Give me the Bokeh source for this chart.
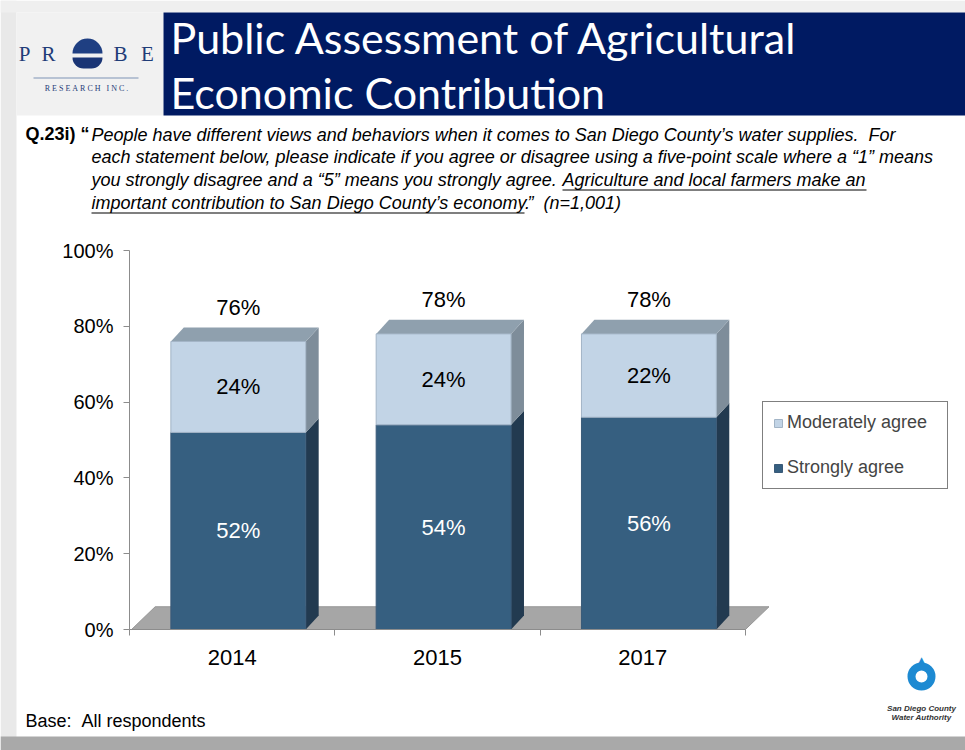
from bokeh.plotting import figure
from bokeh.models import (FixedTicker, Label, BoxAnnotation, Legend, LegendItem,
                          ColumnDataSource)
from bokeh.embed import file_html
from bokeh.resources import INLINE

NB = "\u00a0"

# ---------------- data ----------------
years = ["2014", "2015", "2017"]
strongly = [52, 54, 56]
moderately = [24, 24, 22]
y_ticks = [0, 20, 40, 60, 80, 100]
y_tick_labels = ["0%", "20%", "40%", "60%", "80%", "100%"]
series_names = ["Moderately agree", "Strongly agree"]

title_lines = ["Public Assessment of Agricultural", "Economic Contribution"]
q_prefix = "Q.23i) \u201c"
q_lines = [
    "People have different views and behaviors when it comes to San Diego County\u2019s water supplies." + NB + NB + "For",
    "each statement below, please indicate if you agree or disagree using a five-point scale where a \u201c1\u201d means",
    "you strongly disagree and a \u201c5\u201d means you strongly agree.",
]
q_under1 = "Agriculture and local farmers make an"
q_under2 = "important contribution to San Diego County\u2019s economy."
q_tail = "\u201d" + NB + NB + "(n=1,001)"
base_text = "Base:" + NB + NB + "All respondents"

# ---------------- figure (frame = whole canvas) ----------------
W, H = 965, 750
X0, Y0 = 129, 629          # pixel position of data origin
PX, PY = 205.3, 3.79       # pixels per data unit
p = figure(width=W, height=H,
           x_range=(-X0 / PX, (W - X0) / PX),
           y_range=(-(H - Y0) / PY, Y0 / PY),
           output_backend="svg", toolbar_location=None, title=None,
           min_border=0)
p.outline_line_color = None
p.grid.grid_line_color = None
p.background_fill_color = "white"
p.border_fill_color = "white"

def box(x0, x1, y0, y1, color, **kw):
    p.add_layout(BoxAnnotation(left=x0, right=x1, bottom=H - y1, top=H - y0,
                               left_units="screen", right_units="screen",
                               top_units="screen", bottom_units="screen",
                               fill_color=color, fill_alpha=1, line_color=None, **kw))

def label(X, Y, text, **kw):
    opts = dict(text_baseline="middle", text_align="left", text_color="black")
    opts.update(kw)
    p.add_layout(Label(x=X, y=H - Y, x_units="screen", y_units="screen", text=text, **opts))

# ---------- backdrop (slide frame / shadows) ----------
box(0, 16, 0, 750, "#e9e9e9", level="underlay")
box(0, 965, 0, 12, "#efefef", level="underlay")
box(0, 965, 736, 750, "#a9a9a9", level="underlay")
box(16, 163, 12, 115, "#f1f1f1", level="underlay")
box(163, 965, 12, 115, "#001a62", level="underlay")

for i, t in enumerate(title_lines):
    label(170, 37 + 55 * i, t, text_color="white", text_font="Lato", text_font_size="43px")

# PROBE logo
for ch, X in zip(["P", "R", "B", "E"], [24, 48, 120, 147]):
    label(X, 53, ch, text_color="#1f3c78", text_font="Liberation Serif",
          text_font_size="21px", text_align="center")
box(72, 102, 38, 53, "#1f3f82", border_radius=(15, 15, 0, 0))
box(72, 102, 57, 68, "#1a3575", border_radius=(0, 0, 15, 15))
box(33, 138, 77, 78, "#7f93b5")
label(86, 88, NB.join("RESEARCH") + NB * 3 + NB.join("INC."), text_color="#1f3c78",
      text_font="Liberation Serif", text_font_size="8px", text_align="center")

# question text
QF = "Liberation Sans"
QS = "18px"
label(25, 133, q_prefix, text_font=QF, text_font_size=QS, text_font_style="bold")
for i, t in enumerate(q_lines):
    label(91, 134 + 22.7 * i, t, text_font=QF, text_font_size=QS, text_font_style="italic")
label(562, 179.4, q_under1, text_font=QF, text_font_size=QS, text_font_style="italic")
label(91, 202, q_under2, text_font=QF, text_font_size=QS, text_font_style="italic")
label(527, 202, q_tail, text_font=QF, text_font_size=QS, text_font_style="italic")
box(562, 866, 189, 190, "black")
box(91, 524, 212, 213, "black")

# ---------------- axes (inside the frame, at data origin) ----------------
yax = p.yaxis[0]
yax.fixed_location = 0
yax.ticker = FixedTicker(ticks=y_ticks)
yax.major_label_overrides = {t: l for t, l in zip(y_ticks, y_tick_labels)}
yax.bounds = (0, 100)
yax.axis_line_color = "#8c8c8c"
yax.major_tick_line_color = "#8c8c8c"
yax.major_tick_out = 6
yax.major_tick_in = 0
yax.minor_tick_line_color = None
yax.major_label_text_font = "Liberation Sans"
yax.major_label_text_font_size = "20px"
yax.major_label_text_color = "black"
yax.major_label_standoff = 10

n = len(years)
centers = [i + 0.5 for i in range(n)]
xax = p.xaxis[0]
xax.fixed_location = 0
xax.ticker = FixedTicker(ticks=centers, minor_ticks=list(range(n + 1)))
xax.major_label_overrides = {c: y for c, y in zip(centers, years)}
xax.bounds = (0, n)
xax.axis_line_color = "#8c8c8c"
xax.major_tick_line_color = None
xax.major_tick_out = 0
xax.major_tick_in = 0
xax.minor_tick_line_color = "#8c8c8c"
xax.minor_tick_out = 6
xax.minor_tick_in = 0
xax.major_label_text_font = "Liberation Sans"
xax.major_label_text_font_size = "22px"
xax.major_label_text_color = "black"
xax.major_label_standoff = 14

# ---------------- 3D floor ----------------
DX, DY = 0.063, 3.7
floor_depth = 6.0
p.patch(x=[0.01, n, n + 0.115, 0.125], y=[0, 0, floor_depth, floor_depth],
        fill_color="#a6a6a6", line_color="#969696", line_width=1)

# ---------------- bars ----------------
BW = 0.657
bar_c = [i + 0.53 for i in range(n)]
left = [c - BW / 2 for c in bar_c]
right = [c + BW / 2 for c in bar_c]
tops = [s + m for s, m in zip(strongly, moderately)]

def side(bottoms, tps):
    xs, ys = [], []
    for r, b, t in zip(right, bottoms, tps):
        xs.append([r, r + DX, r + DX, r])
        ys.append([b, b + DY, t + DY, t])
    return xs, ys

sxs, sys_ = side([0] * n, strongly)
p.patches(xs=sxs, ys=sys_, fill_color="#223a50", line_color=None)
mxs, mys = side(strongly, tops)
p.patches(xs=mxs, ys=mys, fill_color="#7e8d9a", line_color=None)
txs = [[l, l + DX, r + DX, r] for l, r in zip(left, right)]
tys = [[t, t + DY, t + DY, t] for t in tops]
p.patches(xs=txs, ys=tys, fill_color="#8fa0ae", line_color=None)

src = ColumnDataSource(dict(left=left, right=right, s=strongly, m=moderately, top=tops,
                            zero=[0] * n))
r_strong = p.quad(left="left", right="right", bottom="zero", top="s", source=src,
                  fill_color="#365f80", line_color="#3a5a78", line_width=1)
r_mod = p.quad(left="left", right="right", bottom="s", top="top", source=src,
               fill_color="#c2d4e6", line_color="#a2b4c6", line_width=1)

# value labels
lab = ColumnDataSource(dict(
    x=bar_c,
    ys=[s / 2 for s in strongly],
    ym=[s + m / 2 for s, m in zip(strongly, moderately)],
    yt=[t + 9 for t in tops],
    ts=[f"{v}%" for v in strongly],
    tm=[f"{v}%" for v in moderately],
    tt=[f"{v}%" for v in tops],
))
common = dict(text_font={"value": "Liberation Sans"}, text_font_size={"value": "22px"},
              text_align="center", text_baseline="middle")
p.text(x="x", y="ys", text="ts", source=lab, text_color="white", **common)
p.text(x="x", y="ym", text="tm", source=lab, text_color="black", **common)
p.text(x="x", y="yt", text="tt", source=lab, text_color="black", **common)

# ---------------- legend ----------------
legend = Legend(items=[LegendItem(label=series_names[0], renderers=[r_mod]),
                       LegendItem(label=series_names[1], renderers=[r_strong])],
                location=(762, H - 489), orientation="vertical",
                border_line_color="black", border_line_width=1,
                background_fill_color="white", background_fill_alpha=1,
                padding=10, spacing=24, label_height=20, label_width=150,
                glyph_height=10, glyph_width=10,
                label_standoff=4, label_text_font="Liberation Sans",
                label_text_font_size="18px", margin=0)
p.add_layout(legend)

# ---------------- footer ----------------
label(25, 720, base_text, text_font="Liberation Sans", text_font_size="18px")
# water authority logo (drop)
label(921, 664, "\u25b2", text_color="#1d8ad2", text_font="DejaVu Sans",
      text_font_size="26px", text_align="center")
box(907, 935, 662, 690, "#1d8ad2", border_radius=14)
box(915, 927, 670, 682, "white", border_radius=6)
for i, t in enumerate(["San Diego County", "Water Authority"]):
    label(921, 708 + 9 * i, t, text_font="Liberation Sans", text_font_size="8px",
          text_font_style="bold italic", text_color="#333333", text_align="center")

open("out.html", "w").write(file_html(p, INLINE))
